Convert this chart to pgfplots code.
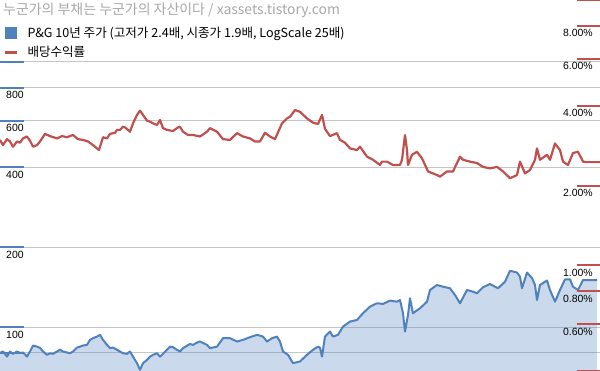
\documentclass[border=0pt]{standalone}
\usepackage{pgfplots}
\pgfplotsset{compat=1.18}
\usepackage{fontspec}
\setmainfont{Liberation Sans}
\newfontfamily\kr{Noto Sans CJK KR}
\definecolor{bluC}{HTML}{4F81BD}
\definecolor{redC}{HTML}{C0504D}
\definecolor{gridC}{HTML}{C6C6C6}
\definecolor{titleC}{HTML}{A8A8A8}
\begin{document}
\begin{tikzpicture}
\begin{axis}[
  at={(0,0)}, anchor=south west,
  width=600bp, height=371bp, scale only axis,
  xmin=0, xmax=600, ymode=log, ymin=68.4, ymax=1710,
  axis line style={draw=none},
  xtick=\empty,
  ytick={80,100,200,400,600,800,1000},
  yticklabels={,100,200,400,600,800,},
  ytick pos=left, yticklabel pos=left,
  yminorticks=false,
  ytick align=inside, major tick length=24bp,
  tick style={bluC, line width=2bp},
  ymajorgrids, major grid style={gridC, line width=1bp},
  yticklabel style={anchor=north west, inner sep=0pt, xshift=6bp, yshift=-3.5bp, font=\fontsize{10.5}{12}\selectfont},
  legend style={at={(0,1)}, anchor=north west, draw=none, fill=none, inner sep=0pt, outer sep=0pt,
    xshift=3bp, yshift=-27bp, font=\kr\fontsize{12.6}{14}\selectfont, row sep=7.5bp,
    nodes={inner sep=0pt},
    /tikz/every odd column/.append style={column sep=9bp}},
  legend cell align=left,
]
\addlegendimage{legend image code/.code={\fill[bluC] (0bp,-5.5bp) rectangle (11bp,5.5bp);}}
\addlegendentry{P\&G 10년 주가 (고저가 2.4배, 시종가 1.9배, LogScale 25배)}
\addlegendimage{legend image code/.code={\draw[redC, line width=3.5bp] (0bp,0bp) -- (12bp,0bp);}}
\addlegendentry{배당수익률}
\pgfplotstableread{
x y
0 80.0
3 81.0
7 77.5
10 81.0
13 79.4
17 81.0
20 80.0
23 80.3
27 77.5
30 81.0
33 85.3
37 84.5
40 83.6
43 81.0
47 78.7
50 79.8
53 79.4
57 81.0
60 82.2
63 81.0
67 80.3
70 79.8
73 81.0
77 83.8
80 84.5
83 85.3
87 85.8
90 89.6
93 90.9
97 92.2
100 93.6
103 89.6
107 85.8
110 83.4
113 83.8
117 82.2
120 81.0
123 79.8
127 79.4
130 81.0
133 77.5
137 73.2
140 69.1
143 73.2
147 75.3
150 77.5
153 78.7
157 79.8
160 77.5
163 79.4
167 82.2
170 84.5
173 84.1
177 82.2
180 81.0
183 83.4
187 85.1
190 86.5
193 85.8
197 87.5
200 88.4
207 85.8
210 83.4
217 84.5
223 90.9
230 90.9
237 88.3
243 89.6
250 91.7
257 93.6
263 92.2
267 88.3
272 90.9
277 92.2
280 88.3
283 81.0
288 78.7
293 73.2
300 74.3
307 78.7
313 82.2
318 84.5
320 83.6
322 77.5
325 92.2
330 96.3
333 92.2
338 93.6
343 100.5
350 105.0
357 106.5
363 112.9
370 119.5
377 123.1
383 122.4
390 125.9
397 124.8
400 126.6
403 112.9
405 96.3
408 111.2
410 128.5
413 112.9
420 117.9
427 124.8
430 138.1
437 144.2
443 142.1
450 140.2
455 132.3
460 123.1
467 138.1
473 136.1
477 134.2
483 141.4
490 145.5
498 140.2
505 148.4
510 163.2
517 160.7
520 155.0
522 140.2
527 160.7
532 153.2
535 144.2
537 126.6
540 144.2
547 150.0
550 138.1
555 124.8
560 138.1
565 151.5
570 151.5
573 142.1
578 138.1
583 150.6
597 150.6
}\pricetable
\addplot[forget plot, draw=none, fill=bluC, fill opacity=0.3] table[x=x,y=y] {\pricetable} |- (axis cs:0,68.4) -- cycle;
\addplot[forget plot, bluC, line width=2bp, line join=round] table[x=x,y=y] {\pricetable};
\end{axis}
\begin{axis}[
  at={(0,0)}, anchor=south west,
  width=600bp, height=371bp, scale only axis,
  xmin=0, xmax=600, ymode=log, ymin=0.4, ymax=10,
  axis line style={draw=none},
  xtick=\empty,
  ytick={0.4,0.6,0.8,1,2,4,6,8,10},
  yticklabels={,0.60\%,0.80\%,1.00\%,2.00\%,4.00\%,6.00\%,8.00\%,},
  ytick pos=right, yticklabel pos=right,
  yminorticks=false,
  ytick align=inside, major tick length=23bp,
  tick style={redC, line width=2bp},
  yticklabel style={anchor=north east, inner sep=0pt, xshift=-7bp, yshift=-3.5bp, font=\fontsize{10.5}{12}\selectfont},
]
\addplot[redC, line width=2.2bp, line join=round] coordinates {
(0,2.97)(3,2.84)(7,2.99)(10,2.93)(13,2.80)(17,2.93)(20,2.90)(23,3.01)(27,3.06)(30,2.95)(33,2.80)(37,2.84)(40,2.93)(45,3.13)(50,3.07)(57,3.01)(62,3.07)(67,3.04)(73,3.10)(78,2.99)(83,2.97)(88,2.93)(93,2.84)(99,2.72)(103,3.04)(107,3.01)(110,3.13)(115,3.16)(117,3.24)(120,3.24)(123,3.33)(125,3.31)(130,3.19)(133,3.43)(137,3.69)(140,3.83)(143,3.69)(147,3.51)(150,3.48)(153,3.43)(157,3.38)(160,3.53)(163,3.29)(167,3.24)(173,3.21)(178,3.31)(180,3.33)(183,3.19)(188,3.10)(193,3.10)(200,3.06)(207,3.19)(210,3.29)(217,3.19)(223,2.99)(230,2.97)(237,3.15)(243,3.06)(250,3.01)(255,2.93)(260,2.93)(265,3.16)(270,3.06)(275,2.99)(282,3.43)(287,3.58)(290,3.63)(295,3.85)(300,3.79)(307,3.58)(313,3.45)(318,3.41)(322,3.69)(325,3.27)(330,3.07)(337,3.15)(340,2.97)(345,2.90)(350,2.76)(357,2.72)(360,2.80)(367,2.57)(373,2.50)(380,2.39)(382,2.46)(387,2.46)(393,2.39)(400,2.39)(402,2.50)(405,3.10)(407,2.72)(408,2.39)(412,2.61)(417,2.68)(422,2.53)(428,2.26)(437,2.19)(440,2.16)(447,2.26)(453,2.26)(457,2.43)(460,2.57)(463,2.50)(470,2.46)(477,2.43)(483,2.35)(490,2.32)(497,2.35)(503,2.26)(510,2.13)(517,2.19)(520,2.46)(525,2.22)(530,2.29)(535,2.50)(537,2.76)(540,2.50)(547,2.61)(550,2.50)(555,2.88)(560,2.72)(563,2.46)(568,2.39)(573,2.65)(578,2.68)(583,2.46)(586,2.45)(600,2.45)};
\node[anchor=base west, inner sep=0pt, text=titleC, font=\kr\fontsize{14}{16}\selectfont] at (rel axis cs:0,1) [xshift=3bp, yshift=-15bp] {누군가의 부채는 누군가의 자산이다 / xassets.tistory.com};
\end{axis}
\pgfresetboundingbox
\path[use as bounding box] (0,0) rectangle (600bp,371bp);
\end{tikzpicture}
\end{document}
